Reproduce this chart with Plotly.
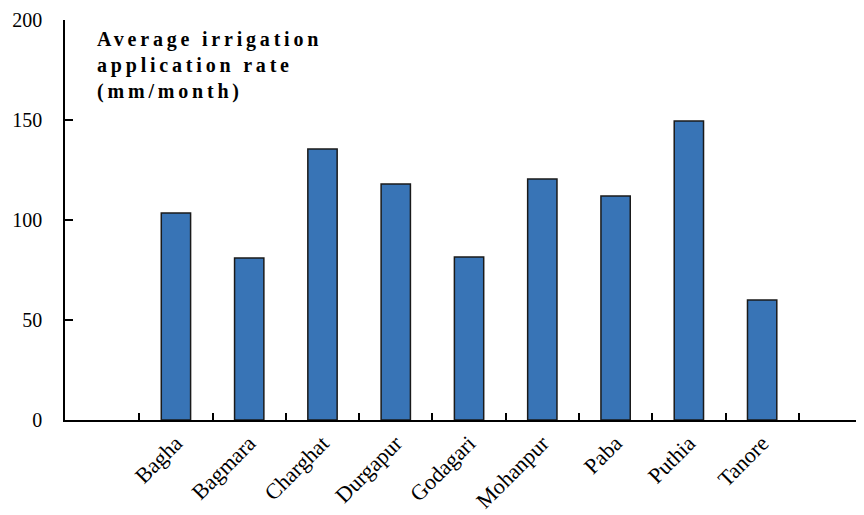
import plotly.graph_objects as go

# upazilas and their average irrigation application rate (mm/month)
upazilas = ["Bagha", "Bagmara", "Charghat", "Durgapur", "Godagari",
            "Mohanpur", "Paba", "Puthia", "Tanore"]
rates = [103.5, 81, 135.5, 118, 81.5, 120.5, 112, 149.5, 60]
y_ticks = [0, 50, 100, 150, 200]

positions = list(range(1, len(upazilas) + 1))
boundaries = [p + 0.5 for p in range(0, len(upazilas) + 1)]

fig = go.Figure()
fig.add_trace(go.Bar(
    x=positions, y=rates,
    width=0.4,
    marker=dict(color="#3874B6", line=dict(color="#1a1a1a", width=1.5)),
    showlegend=False,
))

# page body adds an 8px margin, so the figure is sized to fit inside the window
fig.update_layout(
    width=856, height=507,
    margin=dict(l=57, r=0, t=12, b=95),
    plot_bgcolor="white",
    paper_bgcolor="white",
    font=dict(family="Liberation Serif, Times New Roman, serif", size=20, color="black"),
)

fig.update_xaxes(
    range=[-0.514, 10.39],
    tickmode="array", tickvals=positions, ticktext=upazilas,
    tickangle=-45, ticks="", tickfont=dict(size=22),
    minor=dict(tickmode="array", tickvals=boundaries, ticks="inside",
               ticklen=7, tickwidth=1.5, tickcolor="black"),
    showline=True, linecolor="black", linewidth=1.5,
    showgrid=False, zeroline=False, automargin=False,
)
fig.update_yaxes(
    range=[0, 200],
    tickmode="array", tickvals=y_ticks,
    ticks="inside", ticklen=8, tickwidth=1.5, tickcolor="black",
    ticklabelstandoff=17,
    showline=True, linecolor="black", linewidth=1.5,
    showgrid=False, zeroline=False, automargin=False,
)

fig.add_annotation(
    text=('<span style="letter-spacing:3.8px"><b>Average irrigation<br>'
          'application rate<br>(mm/month)</b></span>'),
    xref="paper", yref="paper", x=0.0375, y=0.985,
    xanchor="left", yanchor="top", align="left", showarrow=False,
    font=dict(family="Liberation Serif, Times New Roman, serif", size=20, color="black"),
)

fig.write_html("out.html")
